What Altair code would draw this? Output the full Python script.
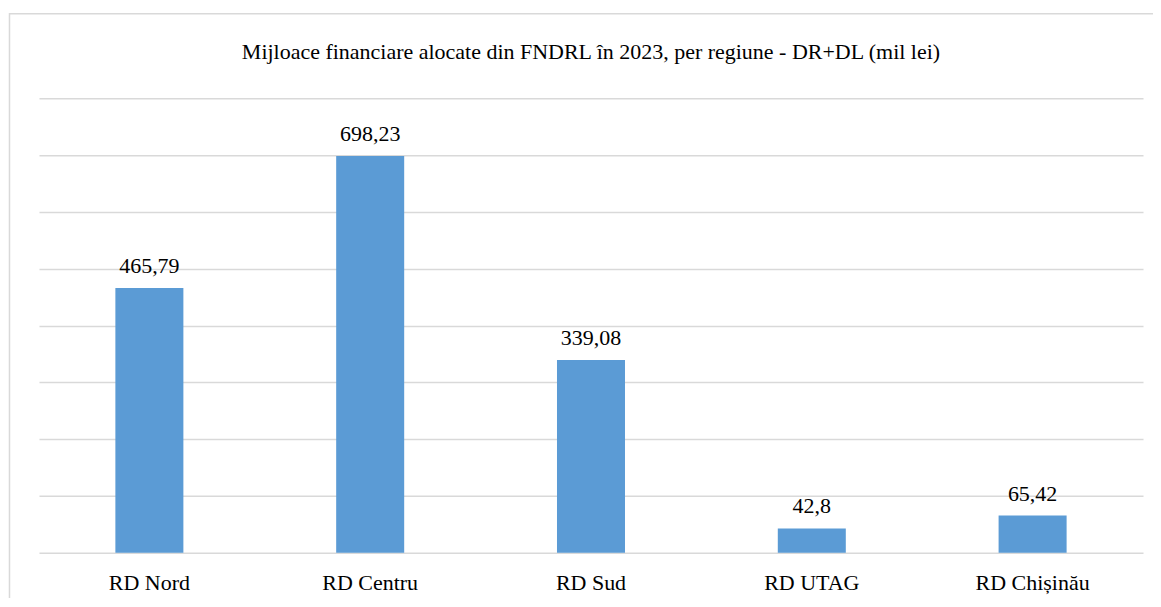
import altair as alt
import pandas as pd

regions = ["RD Nord", "RD Centru", "RD Sud", "RD UTAG", "RD Chișinău"]
values = [465.79, 698.23, 339.08, 42.8, 65.42]
title_text = "Mijloace financiare alocate din FNDRL în 2023, per regiune - DR+DL (mil lei)"

df = pd.DataFrame({"region": regions, "value": values})

FONT = "Times New Roman, Liberation Serif, serif"
GRID = "#d9d9d9"
FS = 22

base = alt.Chart(df)

xenc = alt.X("region:N", sort=regions, title=None,
             scale=alt.Scale(paddingInner=0.692, paddingOuter=0.346),
             axis=alt.Axis(labelAngle=0, labelFont=FONT, labelFontSize=FS,
                           labelColor="#000000", labelPadding=20, ticks=False,
                           domain=False))
yenc = alt.Y("value:Q", title=None,
             scale=alt.Scale(domain=[0, 800], nice=False),
             axis=alt.Axis(labels=False, ticks=False, domain=False,
                           values=[0, 100, 200, 300, 400, 500, 600, 700, 800],
                           gridColor=GRID, gridWidth=1.5))

bars = base.mark_bar(color="#5B9BD5").encode(x=xenc, y=yenc)

text = base.transform_calculate(
    lab="replace(toString(datum.value), '.', ',')"
).mark_text(font=FONT, fontSize=FS, color="#000000", baseline="alphabetic", dy=-15).encode(
    x=alt.X("region:N", sort=regions),
    y="value:Q",
    text="lab:N",
)

border = alt.Chart(pd.DataFrame({"a": [0]})).mark_rect(
    fill=None, stroke=GRID, strokeWidth=1.5, clip=False
).encode(
    x=alt.value(-29.5), x2=alt.value(1200),
    y=alt.value(-84.5), y2=alt.value(700),
)

title = alt.Chart(pd.DataFrame({"t": [title_text]})).mark_text(
    font=FONT, fontSize=FS, color="#000000", baseline="alphabetic", align="center"
).encode(
    x=alt.value(552.5), y=alt.value(-39), text="t:N"
)

chart = alt.layer(border, bars, text, title).properties(
    width=1105, height=455,
    padding={"left": 31, "top": 90, "right": 10, "bottom": 45},
    autosize=alt.AutoSizeParams(type="none"),
    background="#ffffff",
).configure_view(stroke=None)

chart.save("out.html", embed_options={"renderer": "svg", "actions": False})
